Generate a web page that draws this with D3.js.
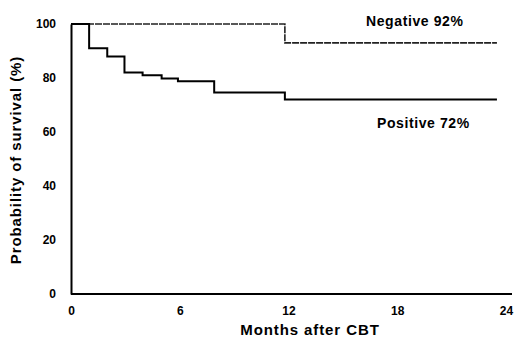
<!DOCTYPE html>
<html>
<head>
<meta charset="utf-8">
<script src="https://cdn.jsdelivr.net/npm/d3@7"></script>
<style>
  body { margin: 0; background: #fff; }
  svg text { font-family: "Liberation Sans", Arial, sans-serif; font-weight: bold; fill: #000; }
</style>
</head>
<body>
<svg id="chart" width="514" height="345"></svg>
<script>
// Kaplan-Meier steps (months, % surviving)
const posMonths = [0, 1, 2, 2.95, 3.95, 5, 5.9, 7.9, 11.8, 23.5];
const posSurv   = [100, 91, 88, 82, 81, 79.8, 78.8, 74.6, 72, 72];
const negMonths = [0, 11.8, 23.5];
const negSurv   = [100, 93, 93];
const xTicks = [0, 6, 12, 18, 24];
const yTicks = [0, 20, 40, 60, 80, 100];

const svg = d3.select("#chart");

const x = d3.scaleLinear().domain([0, 24]).range([71, 506]);
const y = d3.scaleLinear().domain([0, 100]).range([294, 24]);

// axes
const xAxis = svg.append("g")
  .attr("transform", "translate(0,294)")
  .call(d3.axisBottom(x).tickValues(xTicks).tickSize(0).tickPadding(12));
const yAxis = svg.append("g")
  .attr("transform", "translate(71,0)")
  .call(d3.axisLeft(y).tickValues(yTicks).tickSize(0).tickPadding(15));

[xAxis, yAxis].forEach(g => {
  g.select(".domain").attr("stroke", "#000").attr("stroke-width", 2);
  g.selectAll("text").attr("font-size", 12).attr("font-family", null).attr("fill", "#000");
});
// the bottom axis line runs a little past the last tick
xAxis.select(".domain").attr("d", `M${x(0)},0H${x(24) + 6}`);

// curves
const line = d3.line()
  .x(d => x(d[0]))
  .y(d => y(d[1]))
  .curve(d3.curveStepAfter);

svg.append("path")
  .datum(negMonths.map((m, i) => [m, negSurv[i]]))
  .attr("d", line)
  .attr("fill", "none")
  .attr("stroke", "#222")
  .attr("stroke-width", 1.6)
  .attr("stroke-dasharray", "7,1");

svg.append("path")
  .datum(posMonths.map((m, i) => [m, posSurv[i]]))
  .attr("d", line)
  .attr("fill", "none")
  .attr("stroke", "#000")
  .attr("stroke-width", 2);

// labels
svg.append("text")
  .attr("x", 366).attr("y", 26)
  .attr("font-size", 14)
  .attr("letter-spacing", 0.6)
  .text("Negative  92%");

svg.append("text")
  .attr("x", 377).attr("y", 128)
  .attr("font-size", 14)
  .attr("letter-spacing", 0.6)
  .text("Positive  72%");

svg.append("text")
  .attr("x", 310).attr("y", 335)
  .attr("text-anchor", "middle")
  .attr("font-size", 15)
  .attr("letter-spacing", 0.9)
  .text("Months after CBT");

svg.append("text")
  .attr("transform", "translate(21,160)rotate(-90)")
  .attr("text-anchor", "middle")
  .attr("font-size", 15)
  .attr("letter-spacing", 0.9)
  .text("Probability of survival (%)");
</script>
</body>
</html>
